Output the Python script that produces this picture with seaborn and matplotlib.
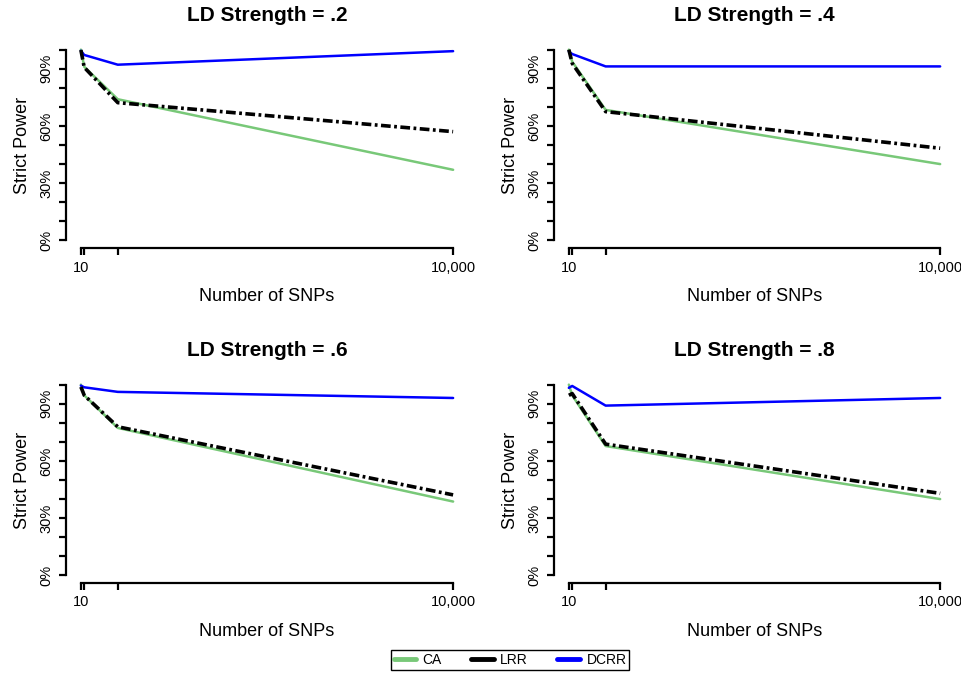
import pandas as pd
import seaborn as sns
import matplotlib.pyplot as plt
from matplotlib.lines import Line2D

# data (strict power, %)
snps = [10, 100, 1000, 10000]
ld_labels = [".2", ".4", ".6", ".8"]

ca = [
    [100, 91, 74, 37],
    [100, 93.7, 68.4, 40],
    [100, 94.4, 77.3, 38.7],
    [100, 94.4, 67.8, 40],
]
lrr = [
    [99.8, 90.7, 72.2, 57],
    [100, 92.8, 67.5, 48.3],
    [98.8, 94.4, 77.9, 42.2],
    [94.4, 95.3, 68.8, 43],
]
dcrr = [
    [99.4, 97.2, 92.1, 99.2],
    [99, 97.7, 91.2, 91.2],
    [99.5, 98.6, 96.2, 93],
    [98.3, 99.3, 89, 93],
]

methods = ["CA", "LRR", "DCRR"]
colors = {"CA": "#78c878", "LRR": "black", "DCRR": "#0000ff"}
widths = {"CA": 1.8, "LRR": 2.6, "DCRR": 1.8}

sns.set_theme(style="ticks")
plt.rcParams["font.family"] = ["Liberation Sans", "DejaVu Sans"]
plt.rcParams["lines.scale_dashes"] = False
plt.rcParams["text.color"] = "black"
plt.rcParams["axes.labelcolor"] = "black"

fig = plt.figure(figsize=(9.62, 6.74), dpi=100)

W, H = 962, 674
boxes = [(66, 42, 468, 248), (554, 42, 955, 248),
         (66, 377, 468, 583), (554, 377, 955, 583)]

for i, (x0, y0, x1, y1) in enumerate(boxes):
    ax = fig.add_axes([x0 / W, 1 - y1 / H, (x1 - x0) / W, (y1 - y0) / H])
    df = pd.DataFrame({
        "snps": snps * 3,
        "power": ca[i] + lrr[i] + dcrr[i],
        "method": [m for m in methods for _ in snps],
    })
    for m in methods:
        sub = df[df["method"] == m]
        sns.lineplot(data=sub, x="snps", y="power", ax=ax, color=colors[m],
                     lw=widths[m], legend=False, zorder=3 if m != "LRR" else 4)
    ax.lines[1].set_dashes((7, 2.5, 2, 2.5))

    ax.set_xlim(10 - 399.6, 10000 + 399.6)
    ax.set_ylim(-4, 104)
    ax.set_xticks(snps)
    ax.set_xticklabels(["10", "", "", "10,000"], fontsize=10.5)
    ax.set_yticks(range(0, 101, 10))
    ax.set_yticklabels([f"{v}%" if v % 30 == 0 else "" for v in range(0, 101, 10)],
                       rotation=90, va="center", fontsize=10.5)
    ax.tick_params(length=5, width=1.6, pad=4, colors="black")
    for s in ["top", "right"]:
        ax.spines[s].set_visible(False)
    ax.spines["left"].set_bounds(0, 100)
    ax.spines["bottom"].set_bounds(10, 10000)
    for s in ["left", "bottom"]:
        ax.spines[s].set_linewidth(1.6)
        ax.spines[s].set_color("black")
    ax.set_xlabel("Number of SNPs", fontsize=13, labelpad=10)
    ax.set_ylabel("Strict Power", fontsize=13, labelpad=6)
    ax.set_title(f"LD Strength = {ld_labels[i]}", fontsize=15, fontweight="bold", pad=15)

handles = [Line2D([], [], color=colors[m], lw=3.5) for m in methods]
fig.legend(handles, methods, loc="center", bbox_to_anchor=(510 / W, 1 - 660 / H),
           ncol=3, fontsize=10, frameon=True, fancybox=False, edgecolor="black",
           handlelength=1.65, handletextpad=0.45, columnspacing=2.1,
           borderpad=0.2, framealpha=1)

fig.savefig("out.png", dpi=100)
